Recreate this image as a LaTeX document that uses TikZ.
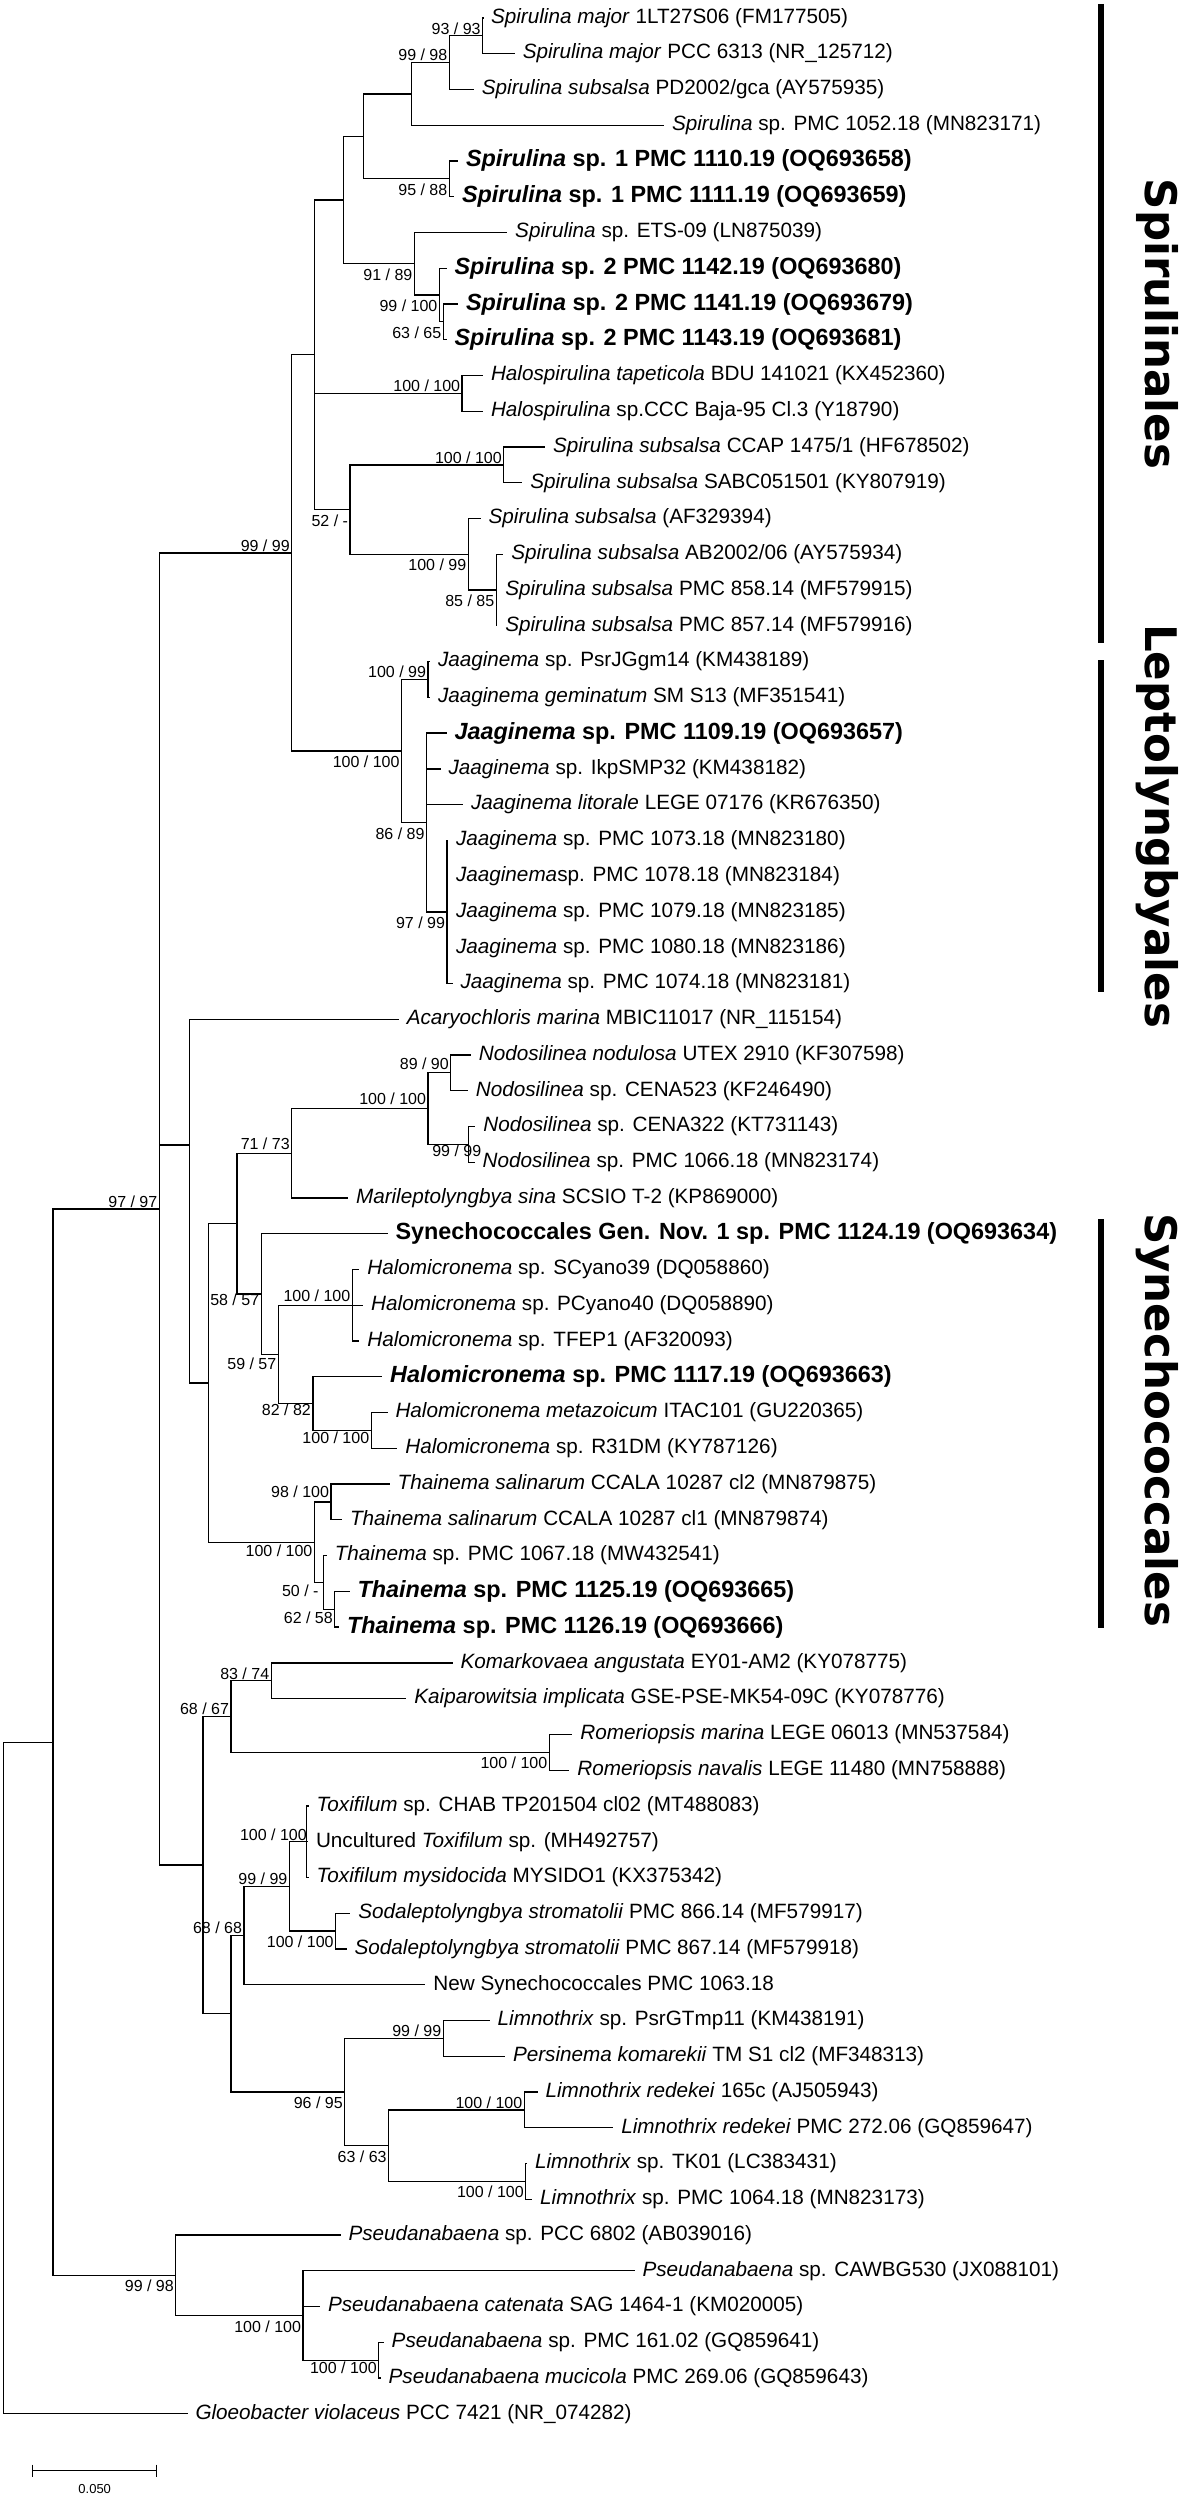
\documentclass[tikz,border=0pt]{standalone}
\usepackage{fontspec}
\setmainfont{Liberation Sans}
\newfontfamily\cladefont{DejaVu Sans}
\usepackage{tikz}
\usetikzlibrary{positioning}

\tikzset{
  branch/.style={line width=1.3pt},
  leaf/.style={anchor=west, inner xsep=8pt, inner ysep=0pt, outer sep=0pt, font=\fontsize{20.7}{24}\selectfont},
  ownleaf/.style={leaf, font=\fontsize{23.4}{27}\selectfont\bfseries},
  bs/.style={inner xsep=2pt, outer sep=0pt, font=\fontsize{16}{18}\selectfont},
  bsup/.style={bs, anchor=south east, inner ysep=1.5pt},
  bsdn/.style={bs, anchor=north east, inner ysep=5pt},
  cladebar/.style={line width=6pt},
  cladename/.style={rotate=-90, anchor=base, inner sep=0pt, font=\cladefont\fontsize{43.5}{48}\selectfont\bfseries},
}

\begin{document}
\begin{tikzpicture}[x=1pt, y=-35.76pt]
\useasboundingbox (0,0) rectangle (1188,69.91);

% internal nodes
\coordinate (a1) at (482.6,1.0);
\coordinate (a2) at (449.3,1.75);
\coordinate (a3) at (411.4,2.625);
\coordinate (a4) at (449.3,5.0);
\coordinate (a5) at (363.7,3.8125);
\coordinate (a8) at (443.2,9.0);
\coordinate (a7) at (439.4,8.25);
\coordinate (a6) at (414.4,7.375);
\coordinate (a9) at (343.2,5.594);
\coordinate (h1) at (462.1,11.0);
\coordinate (s1) at (503.8,13.0);
\coordinate (s3) at (496.2,16.5);
\coordinate (s2) at (468.2,15.5);
\coordinate (s4) at (350.0,14.25);
\coordinate (sp) at (314.4,9.922);
\coordinate (j1) at (428.0,19.0);
\coordinate (j3) at (447.0,25.5);
\coordinate (j2) at (426.5,23.0);
\coordinate (le) at (401.5,21.0);
\coordinate (sl) at (291.7,15.461);
\coordinate (n2) at (450.8,30.0);
\coordinate (n3) at (468.2,32.0);
\coordinate (n1) at (428.0,31.0);
\coordinate (n4) at (291.7,32.25);
\coordinate (m1) at (352.3,36.5);
\coordinate (m3) at (371.2,40.0);
\coordinate (m2) at (312.9,39.25);
\coordinate (m4) at (278.3,37.875);
\coordinate (m5) at (261.2,36.1875);
\coordinate (m6) at (236.9,34.219);
\coordinate (t2) at (331.0,42.0);
\coordinate (t4) at (334.8,45.0);
\coordinate (t3) at (323.5,44.25);
\coordinate (t1) at (314.4,43.125);
\coordinate (m7) at (208.6,38.672);
\coordinate (sy) at (189.3,32.02);
\coordinate (k1) at (271.2,47.0);
\coordinate (r1) at (549.3,49.0);
\coordinate (k2) at (231.0,48.0);
\coordinate (x1) at (306.8,51.5);
\coordinate (x2) at (335.6,54.0);
\coordinate (x3) at (289.4,52.75);
\coordinate (x4) at (244.0,54.125);
\coordinate (q1) at (443.2,57.0);
\coordinate (q3) at (524.3,59.0);
\coordinate (q4) at (525.8,61.0);
\coordinate (q2) at (388.6,60.0);
\coordinate (q5) at (344.7,58.5);
\coordinate (x5) at (231.0,56.3125);
\coordinate (x6) at (203.0,52.156);
\coordinate (ing) at (159.3,33.81);
\coordinate (p2) at (378.8,66.0);
\coordinate (p1) at (303.0,64.75);
\coordinate (pa) at (175.8,63.625);
\coordinate (ig) at (53.0,48.72);
\coordinate (root) at (3.8,58.11);

% taxa
\node[leaf] (tx1) at (483.0,0.5) {\textit{Spirulina major} 1LT27S06 (FM177505)};
\node[leaf] (tx2) at (514.8,1.5) {\textit{Spirulina major} PCC 6313 (NR\_125712)};
\node[leaf] (tx3) at (473.9,2.5) {\textit{Spirulina subsalsa} PD2002/gca (AY575935)};
\node[leaf] (tx4) at (664.0,3.5) {\textit{Spirulina} sp. PMC 1052.18 (MN823171)};
\node[ownleaf] (tx5) at (458.0,4.5) {\textit{Spirulina} sp. 1 PMC 1110.19 (OQ693658)};
\node[ownleaf] (tx6) at (454.0,5.5) {\textit{Spirulina} sp. 1 PMC 1111.19 (OQ693659)};
\node[leaf] (tx7) at (507.2,6.5) {\textit{Spirulina} sp. ETS-09 (LN875039)};
\node[ownleaf] (tx8) at (446.6,7.5) {\textit{Spirulina} sp. 2 PMC 1142.19 (OQ693680)};
\node[ownleaf] (tx9) at (458.0,8.5) {\textit{Spirulina} sp. 2 PMC 1141.19 (OQ693679)};
\node[ownleaf] (tx10) at (446.6,9.5) {\textit{Spirulina} sp. 2 PMC 1143.19 (OQ693681)};
\node[leaf] (tx11) at (483.0,10.5) {\textit{Halospirulina tapeticola} BDU 141021 (KX452360)};
\node[leaf] (tx12) at (483.0,11.5) {\textit{Halospirulina} sp.CCC Baja-95 Cl.3 (Y18790)};
\node[leaf] (tx13) at (545.0,12.5) {\textit{Spirulina subsalsa} CCAP 1475/1 (HF678502)};
\node[leaf] (tx14) at (522.3,13.5) {\textit{Spirulina subsalsa} SABC051501 (KY807919)};
\node[leaf] (tx15) at (480.6,14.5) {\textit{Spirulina subsalsa} (AF329394)};
\node[leaf] (tx16) at (503.4,15.5) {\textit{Spirulina subsalsa} AB2002/06 (AY575934)};
\node[leaf] (tx17) at (497.3,16.5) {\textit{Spirulina subsalsa} PMC 858.14 (MF579915)};
\node[leaf] (tx18) at (497.3,17.5) {\textit{Spirulina subsalsa} PMC 857.14 (MF579916)};
\node[leaf] (tx19) at (430.0,18.5) {\textit{Jaaginema} sp. PsrJGgm14 (KM438189)};
\node[leaf] (tx20) at (430.0,19.5) {\textit{Jaaginema geminatum} SM S13 (MF351541)};
\node[ownleaf] (tx21) at (446.6,20.5) {\textit{Jaaginema} sp. PMC 1109.19 (OQ693657)};
\node[leaf] (tx22) at (440.5,21.5) {\textit{Jaaginema} sp. IkpSMP32 (KM438182)};
\node[leaf] (tx23) at (463.0,22.5) {\textit{Jaaginema litorale} LEGE 07176 (KR676350)};
\node[leaf] (tx24) at (448.0,23.5) {\textit{Jaaginema} sp. PMC 1073.18 (MN823180)};
\node[leaf] (tx25) at (448.0,24.5) {\textit{Jaaginema}sp. PMC 1078.18 (MN823184)};
\node[leaf] (tx26) at (448.0,25.5) {\textit{Jaaginema} sp. PMC 1079.18 (MN823185)};
\node[leaf] (tx27) at (448.0,26.5) {\textit{Jaaginema} sp. PMC 1080.18 (MN823186)};
\node[leaf] (tx28) at (452.6,27.5) {\textit{Jaaginema} sp. PMC 1074.18 (MN823181)};
\node[leaf] (tx29) at (398.8,28.5) {\textit{Acaryochloris marina} MBIC11017 (NR\_115154)};
\node[leaf] (tx30) at (470.8,29.5) {\textit{Nodosilinea nodulosa} UTEX 2910 (KF307598)};
\node[leaf] (tx31) at (467.8,30.5) {\textit{Nodosilinea} sp. CENA523 (KF246490)};
\node[leaf] (tx32) at (475.4,31.5) {\textit{Nodosilinea} sp. CENA322 (KT731143)};
\node[leaf] (tx33) at (474.6,32.5) {\textit{Nodosilinea} sp. PMC 1066.18 (MN823174)};
\node[leaf] (tx34) at (348.0,33.5) {\textit{Marileptolyngbya sina} SCSIO T-2 (KP869000)};
\node[ownleaf] (tx35) at (387.5,34.5) {Synechococcales Gen. Nov. 1 sp. PMC 1124.19 (OQ693634)};
\node[leaf] (tx36) at (359.4,35.5) {\textit{Halomicronema} sp. SCyano39 (DQ058860)};
\node[leaf] (tx37) at (363.2,36.5) {\textit{Halomicronema} sp. PCyano40 (DQ058890)};
\node[leaf] (tx38) at (359.4,37.5) {\textit{Halomicronema} sp. TFEP1 (AF320093)};
\node[ownleaf] (tx39) at (382.2,38.5) {\textit{Halomicronema} sp. PMC 1117.19 (OQ693663)};
\node[leaf] (tx40) at (387.5,39.5) {\textit{Halomicronema metazoicum} ITAC101 (GU220365)};
\node[leaf] (tx41) at (397.3,40.5) {\textit{Halomicronema} sp. R31DM (KY787126)};
\node[leaf] (tx42) at (389.7,41.5) {\textit{Thainema salinarum} CCALA 10287 cl2 (MN879875)};
\node[leaf] (tx43) at (342.0,42.5) {\textit{Thainema salinarum} CCALA 10287 cl1 (MN879874)};
\node[leaf] (tx44) at (326.8,43.5) {\textit{Thainema} sp. PMC 1067.18 (MW432541)};
\node[ownleaf] (tx45) at (349.6,44.5) {\textit{Thainema} sp. PMC 1125.19 (OQ693665)};
\node[ownleaf] (tx46) at (339.0,45.5) {\textit{Thainema} sp. PMC 1126.19 (OQ693666)};
\node[leaf] (tx47) at (452.6,46.5) {\textit{Komarkovaea angustata} EY01-AM2 (KY078775)};
\node[leaf] (tx48) at (406.4,47.5) {\textit{Kaiparowitsia implicata} GSE-PSE-MK54-09C (KY078776)};
\node[leaf] (tx49) at (572.3,48.5) {\textit{Romeriopsis marina} LEGE 06013 (MN537584)};
\node[leaf] (tx50) at (569.3,49.5) {\textit{Romeriopsis navalis} LEGE 11480 (MN758888)};
\node[leaf] (tx51) at (308.7,50.5) {\textit{Toxifilum} sp. CHAB TP201504 cl02 (MT488083)};
\node[leaf] (tx52) at (308.0,51.5) {Uncultured \textit{Toxifilum} sp. (MH492757)};
\node[leaf] (tx53) at (308.7,52.5) {\textit{Toxifilum mysidocida} MYSIDO1 (KX375342)};
\node[leaf] (tx54) at (350.3,53.5) {\textit{Sodaleptolyngbya stromatolii} PMC 866.14 (MF579917)};
\node[leaf] (tx55) at (346.6,54.5) {\textit{Sodaleptolyngbya stromatolii} PMC 867.14 (MF579918)};
\node[leaf] (tx56) at (425.4,55.5) {New Synechococcales PMC 1063.18};
\node[leaf] (tx57) at (489.7,56.5) {\textit{Limnothrix} sp. PsrGTmp11 (KM438191)};
\node[leaf] (tx58) at (505.0,57.5) {\textit{Persinema komarekii} TM S1 cl2 (MF348313)};
\node[leaf] (tx59) at (537.5,58.5) {\textit{Limnothrix redekei} 165c (AJ505943)};
\node[leaf] (tx60) at (613.3,59.5) {\textit{Limnothrix redekei} PMC 272.06 (GQ859647)};
\node[leaf] (tx61) at (527.0,60.5) {\textit{Limnothrix} sp. TK01 (LC383431)};
\node[leaf] (tx62) at (532.2,61.5) {\textit{Limnothrix} sp. PMC 1064.18 (MN823173)};
\node[leaf] (tx63) at (340.5,62.5) {\textit{Pseudanabaena} sp. PCC 6802 (AB039016)};
\node[leaf] (tx64) at (634.5,63.5) {\textit{Pseudanabaena} sp. CAWBG530 (JX088101)};
\node[leaf] (tx65) at (320.0,64.5) {\textit{Pseudanabaena catenata} SAG 1464-1 (KM020005)};
\node[leaf] (tx66) at (383.7,65.5) {\textit{Pseudanabaena} sp. PMC 161.02 (GQ859641)};
\node[leaf] (tx67) at (380.6,66.5) {\textit{Pseudanabaena mucicola} PMC 269.06 (GQ859643)};
\node[leaf] (tx68) at (187.5,67.5) {\textit{Gloeobacter violaceus} PCC 7421 (NR\_074282)};

\draw[branch]
  (a1) |- (tx1)  (a1) |- (tx2)
  (a2) |- (a1)   (a2) |- (tx3)
  (a3) |- (a2)   (a3) |- (tx4)
  (a4) |- (tx5)  (a4) |- (tx6)
  (a5) |- (a3)   (a5) |- (a4)
  (a8) |- (tx9)  (a8) |- (tx10)
  (a7) |- (tx8)  (a7) |- (a8)
  (a6) |- (tx7)  (a6) |- (a7)
  (a9) |- (a5)   (a9) |- (a6)
  (h1) |- (tx11) (h1) |- (tx12)
  (s1) |- (tx13) (s1) |- (tx14)
  (s3) |- (tx16) (s3) |- (tx17) (s3) |- (tx18)
  (s2) |- (tx15) (s2) |- (s3)
  (s4) |- (s1)   (s4) |- (s2)
  (sp) |- (a9)   (sp) |- (h1)   (sp) |- (s4)
  (j1) |- (tx19) (j1) |- (tx20)
  (j3) |- (tx24) (j3) |- (tx25) (j3) |- (tx26) (j3) |- (tx27) (j3) |- (tx28)
  (j2) |- (tx21) (j2) |- (tx22) (j2) |- (tx23) (j2) |- (j3)
  (le) |- (j1)   (le) |- (j2)
  (sl) |- (sp)   (sl) |- (le)
  (n2) |- (tx30) (n2) |- (tx31)
  (n3) |- (tx32) (n3) |- (tx33)
  (n1) |- (n2)   (n1) |- (n3)
  (n4) |- (n1)   (n4) |- (tx34)
  (m1) |- (tx36) (m1) |- (tx37) (m1) |- (tx38)
  (m3) |- (tx40) (m3) |- (tx41)
  (m2) |- (tx39) (m2) |- (m3)
  (m4) |- (m1)   (m4) |- (m2)
  (m5) |- (tx35) (m5) |- (m4)
  (m6) |- (n4)   (m6) |- (m5)
  (t2) |- (tx42) (t2) |- (tx43)
  (t4) |- (tx45) (t4) |- (tx46)
  (t3) |- (tx44) (t3) |- (t4)
  (t1) |- (t2)   (t1) |- (t3)
  (m7) |- (m6)   (m7) |- (t1)
  (sy) |- (tx29) (sy) |- (m7)
  (k1) |- (tx47) (k1) |- (tx48)
  (r1) |- (tx49) (r1) |- (tx50)
  (k2) |- (k1)   (k2) |- (r1)
  (x1) |- (tx51) (x1) |- (tx52) (x1) |- (tx53)
  (x2) |- (tx54) (x2) |- (tx55)
  (x3) |- (x1)   (x3) |- (x2)
  (x4) |- (x3)   (x4) |- (tx56)
  (q1) |- (tx57) (q1) |- (tx58)
  (q3) |- (tx59) (q3) |- (tx60)
  (q4) |- (tx61) (q4) |- (tx62)
  (q2) |- (q3)   (q2) |- (q4)
  (q5) |- (q1)   (q5) |- (q2)
  (x5) |- (x4)   (x5) |- (q5)
  (x6) |- (k2)   (x6) |- (x5)
  (ing) |- (sl)  (ing) |- (sy)  (ing) |- (x6)
  (p2) |- (tx66) (p2) |- (tx67)
  (p1) |- (tx64) (p1) |- (tx65) (p1) |- (p2)
  (pa) |- (tx63) (pa) |- (p1)
  (ig) |- (ing)  (ig) |- (pa)
  (root) |- (ig) (root) |- (tx68);

% bootstrap values
\node[bsup] (ba1) at (a1) {93 / 93};
\node[bsup] (ba2) at (a2) {99 / 98};
\node[bsdn] (ba4) at (a4) {95 / 88};
\node[bsdn] (ba6) at (a6) {91 / 89};
\node[bsdn] (ba7) at (a7) {99 / 100};
\node[bsdn] (ba8) at (a8) {63 / 65};
\node[bsup] (bh1) at (h1) {100 / 100};
\node[bsup] (bs1) at (s1) {100 / 100};
\node[bsdn] (bs4) at (s4) {52 / -};
\node[bsdn] (bs2) at (s2) {100 / 99};
\node[bsdn] (bs3) at (s3) {85 / 85};
\node[bsup] (bsl) at (sl) {99 / 99};
\node[bsup] (bj1) at (j1) {100 / 99};
\node[bsdn] (ble) at (le) {100 / 100};
\node[bsdn] (bj2) at (j2) {86 / 89};
\node[bsdn] (bj3) at (j3) {97 / 99};
\node[bsup, yshift=1.5pt] (bn2) at (n2) {89 / 90};
\node[bsup, yshift=2pt] (bn1) at (n1) {100 / 100};
\node[bs, anchor=east] (bn3) at ([xshift=15pt,yshift=-6pt]n3) {99 / 99};
\node[bsup, yshift=2.5pt] (bn4) at (n4) {71 / 73};
\node[bsdn, yshift=5pt] (bm5) at (m5) {58 / 57};
\node[bsdn, yshift=2pt] (bm4) at (m4) {59 / 57};
\node[bsup, yshift=2.5pt] (bm1) at (m1) {100 / 100};
\node[bsdn, yshift=4.5pt] (bm2) at (m2) {82 / 82};
\node[bsdn, yshift=3.5pt] (bm3) at (m3) {100 / 100};
\node[bsup, yshift=2.5pt] (bt2) at (t2) {98 / 100};
\node[bsdn, yshift=2.5pt] (bt1) at (t1) {100 / 100};
\node[bsdn, yshift=3pt, xshift=-3pt] (bt3) at (t3) {50 / -};
\node[bsdn, yshift=2pt] (bt4) at (t4) {62 / 58};
\node[bsup] (bing) at (ing) {97 / 97};
\node[bsup] (bk1) at (k1) {83 / 74};
\node[bsup] (bk2) at (k2) {68 / 67};
\node[bsdn] (br1) at (r1) {100 / 100};
\node[bsup, xshift=2pt] (bx1) at (x1) {100 / 100};
\node[bsup] (bx3) at (x3) {99 / 99};
\node[bsup] (bx4) at (x4) {68 / 68};
\node[bsdn] (bx2) at (x2) {100 / 100};
\node[bsup] (bq1) at (q1) {99 / 99};
\node[bsdn] (bq5) at (q5) {96 / 95};
\node[bsup] (bq3) at (q3) {100 / 100};
\node[bsdn] (bq2) at (q2) {63 / 63};
\node[bsdn] (bq4) at (q4) {100 / 100};
\node[bsdn] (bpa) at (pa) {99 / 98};
\node[bsdn] (bp1) at (p1) {100 / 100};
\node[bsdn, yshift=3pt] (bp2) at (p2) {100 / 100};

% orders
\coordinate (spA) at (1101,0.11);
\coordinate (spB) at (1101,17.99);
\coordinate (leA) at (1101,18.46);
\coordinate (leB) at (1101,27.73);
\coordinate (syA) at (1101,34.09);
\coordinate (syB) at (1101,45.52);
\draw[cladebar] (spA) -- (spB);
\draw[cladebar] (leA) -- (leB);
\draw[cladebar] (syA) -- (syB);
\node[cladename] (spname) at (1145,9.06) {Spirulinales};
\node[cladename] (lename) at (1145,23.10) {Leptolyngbyales};
\node[cladename] (syname) at (1145,39.71) {Synechococcales};

% scale
\coordinate (sbA) at (32.6,69.09);
\coordinate (sbB) at (156.8,69.09);
\coordinate (sbM) at (94.7,69.09);
\draw[branch] (sbA) -- (sbB);
\draw[branch] ([yshift=6pt]sbA) -- ([yshift=-6pt]sbA);
\draw[branch] ([yshift=6pt]sbB) -- ([yshift=-6pt]sbB);
\node[font=\fontsize{13}{15}\selectfont, below=10pt of sbM] (sblabel) {0.050};
\end{tikzpicture}
\end{document}
